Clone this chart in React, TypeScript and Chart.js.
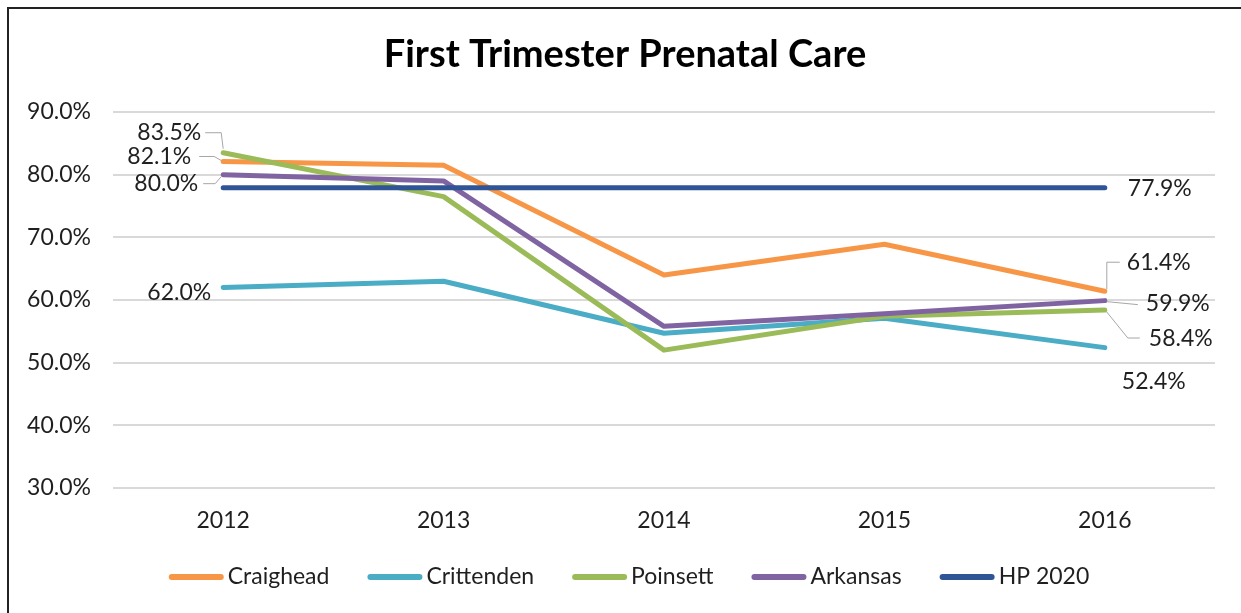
import React, { useEffect, useRef } from "react";
import { Chart, registerables } from "chart.js";

Chart.register(...registerables);

const years = ["2012", "2013", "2014", "2015", "2016"];
const seriesNames = ["Craighead", "Crittenden", "Poinsett", "Arkansas", "HP 2020"];
const craighead = [82.1, 81.5, 64.0, 68.9, 61.4];
const crittenden = [62.0, 63.0, 54.7, 57.1, 52.4];
const poinsett = [83.5, 76.5, 52.0, 57.4, 58.4];
const arkansas = [80.0, 79.0, 55.8, 57.8, 59.9];
const hp2020 = [77.9, 77.9, 77.9, 77.9, 77.9];
const colors = ["#F79646", "#4BACC6", "#9BBB59", "#8064A2", "#2F5597"];
const yTicks = [30, 40, 50, 60, 70, 80, 90];

const FONT = "Lato";
const TEXT = "#1f1f1f";

// label annotations: dataset, index, text offset from point, alignment, leader path offsets
const labelSpecs = [
  { ds: 2, i: 0, dx: -22, dy: -20, align: "right", leader: [[-18, -20], [-2, -20], [0, -4]] },
  { ds: 0, i: 0, dx: -32, dy: -5, align: "right", leader: [[-24, -5], [-9, -5], [-2, -1]] },
  { ds: 3, i: 0, dx: -25, dy: 9, align: "right", leader: [[-20, 9], [-8, 9], [-2, 2]] },
  { ds: 1, i: 0, dx: -12, dy: 5, align: "right", leader: null },
  { ds: 4, i: 4, dx: 23, dy: 1, align: "left", leader: null },
  { ds: 0, i: 4, dx: 22, dy: -29, align: "left", leader: [[15, -29], [2, -29], [2, -2]] },
  { ds: 3, i: 4, dx: 41, dy: 3, align: "left", leader: [[2, 1], [33, 4]] },
  { ds: 2, i: 4, dx: 44, dy: 29, align: "left", leader: [[2, 2], [23, 28], [35, 28]] },
  { ds: 1, i: 4, dx: 17, dy: 34, align: "left", leader: null },
];

const titlePlugin = {
  id: "customTitle",
  afterDraw(chart: any) {
    const ctx = chart.ctx;
    ctx.save();
    ctx.font = `bold 38px ${FONT}`;
    ctx.fillStyle = "#000";
    ctx.textAlign = "center";
    ctx.textBaseline = "middle";
    ctx.fillText("First Trimester Prenatal Care", 625, 55);
    ctx.restore();
  },
};

const labelsPlugin = {
  id: "customLabels",
  afterDatasetsDraw(chart: any) {
    const ctx = chart.ctx;
    ctx.save();
    for (const s of labelSpecs) {
      const pt = chart.getDatasetMeta(s.ds).data[s.i];
      const v = chart.data.datasets[s.ds].data[s.i] as number;
      const px = pt.x, py = pt.y;
      if (s.leader) {
        ctx.beginPath();
        ctx.strokeStyle = "#A6A6A6";
        ctx.lineWidth = 1;
        s.leader.forEach((p: number[], k: number) => {
          if (k === 0) ctx.moveTo(px + p[0], py + p[1]);
          else ctx.lineTo(px + p[0], py + p[1]);
        });
        ctx.stroke();
      }
      ctx.font = `23px ${FONT}`;
      ctx.fillStyle = TEXT;
      ctx.textAlign = s.align;
      ctx.textBaseline = "middle";
      ctx.fillText(v.toFixed(1) + "%", px + s.dx, py + s.dy);
    }
    ctx.restore();
  },
};

const legendPlugin = {
  id: "customLegend",
  afterDraw(chart: any) {
    const ctx = chart.ctx;
    ctx.save();
    ctx.font = `23px ${FONT}`;
    const lineW = 55;
    const gapText = 4;
    const gapItem = 38;
    const widths = chart.data.datasets.map((d: any) => lineW + gapText + ctx.measureText(d.label).width);
    const total = widths.reduce((a: number, b: number) => a + b, 0) + gapItem * (widths.length - 1);
    let x = 629 - total / 2;
    const y = 577;
    chart.data.datasets.forEach((d: any, k: number) => {
      ctx.beginPath();
      ctx.strokeStyle = d.borderColor;
      ctx.lineWidth = 6;
      ctx.lineCap = "round";
      ctx.moveTo(x + 3, y);
      ctx.lineTo(x + lineW - 3, y);
      ctx.stroke();
      ctx.fillStyle = TEXT;
      ctx.textAlign = "left";
      ctx.textBaseline = "middle";
      ctx.fillText(d.label, x + lineW + gapText, y);
      x += widths[k] + gapItem;
    });
    ctx.restore();
  },
};

export default function App() {
  const ref = useRef<HTMLCanvasElement>(null);
  useEffect(() => {
    document.documentElement.style.overflow = "hidden";
    document.body.style.margin = "0";
    document.body.style.overflow = "hidden";
    const series = [craighead, crittenden, poinsett, arkansas, hp2020];
    const chart = new Chart(ref.current!, {
      type: "line",
      data: {
        labels: years,
        datasets: series.map((d, k) => ({
          label: seriesNames[k],
          data: d,
          borderColor: colors[k],
          backgroundColor: colors[k],
          borderWidth: 5,
          borderCapStyle: "round",
          borderJoinStyle: "round",
          pointRadius: 0,
          pointHoverRadius: 0,
          tension: 0,
          fill: false,
          order: series.length - k,
        })),
      },
      options: {
        animation: false,
        responsive: false,
        maintainAspectRatio: false,
        layout: { padding: { top: 112, right: 26, bottom: 75, left: 0 } },
        plugins: { legend: { display: false }, title: { display: false }, tooltip: { enabled: false } },
        scales: {
          x: {
            offset: true,
            grid: { display: false, drawTicks: false },
            border: { display: false },
            ticks: { padding: 19, color: TEXT, font: { family: FONT, size: 23 } },
            afterFit: (s: any) => { s.height = 50; },
          },
          y: {
            min: 30,
            max: 90,
            afterBuildTicks: (s: any) => { s.ticks = yTicks.map((v) => ({ value: v })); },
            grid: { color: "#D9D9D9", lineWidth: 2, drawTicks: false },
            border: { display: false },
            ticks: {
              padding: 22,
              color: TEXT,
              font: { family: FONT, size: 23 },
              callback: (v: any) => Number(v).toFixed(1) + "%",
            },
            afterFit: (s: any) => { s.width = 113; },
          },
        },
      },
      plugins: [titlePlugin, labelsPlugin, legendPlugin],
    } as any);
    return () => chart.destroy();
  }, []);
  return (
    <div style={{ position: "fixed", left: 0, top: 0, width: 1241, height: 613, background: "#fff", overflow: "hidden" }}>
      <canvas ref={ref} width={1241} height={613} style={{ position: "absolute", left: 0, top: 0, display: "block" }} />
      <div
        style={{
          position: "absolute",
          left: 7,
          top: 7,
          width: 1240,
          height: 612,
          borderTop: "2px solid #222",
          borderLeft: "2px solid #222",
          borderRight: "none",
          borderBottom: "none",
          boxSizing: "border-box",
          pointerEvents: "none",
        }}
      />
    </div>
  );
}
